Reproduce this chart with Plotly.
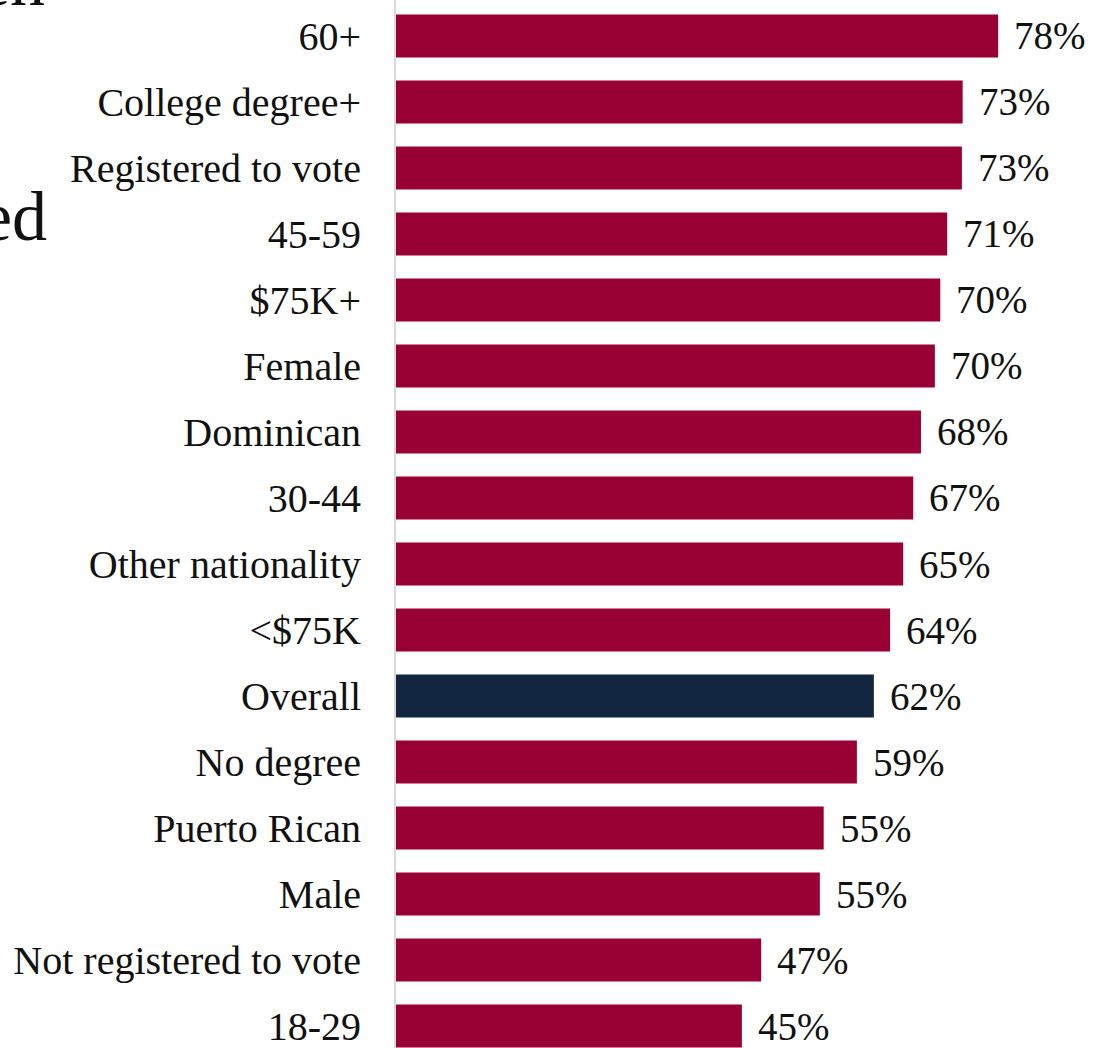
import plotly.graph_objects as go

categories = ["60+", "College degree+", "Registered to vote", "45-59", "$75K+", "Female",
              "Dominican", "30-44", "Other nationality", "<$75K", "Overall", "No degree",
              "Puerto Rican", "Male", "Not registered to vote", "18-29"]
values = [78.0, 73.4, 73.3, 71.4, 70.5, 69.8, 68.0, 67.0, 65.7, 64.0, 61.9, 59.7, 55.4, 54.9, 47.3, 44.8]
value_labels = ["78%", "73%", "73%", "71%", "70%", "70%", "68%", "67%", "65%", "64%",
                "62%", "59%", "55%", "55%", "47%", "45%"]
highlight = "Overall"

CRIMSON = "#990033"
NAVY = "#13263f"
FONT = "Liberation Serif"

colors = [NAVY if c == highlight else CRIMSON for c in categories]

fig = go.Figure(go.Bar(
    x=values, y=categories, orientation="h",
    marker=dict(color=colors, line=dict(width=0)),
    hoverinfo="skip",
))

for c, v, t in zip(categories, values, value_labels):
    fig.add_annotation(x=v, y=c, text=t, showarrow=False, xanchor="left", yanchor="middle",
                       xshift=14, font=dict(family=FONT, size=39, color="#111111"))

# cut-off title fragments at the left edge
fig.add_annotation(xref="paper", yref="paper", x=(47 - 396) / 709, y=1 - 8 / 1048,
                   text="en", showarrow=False, xanchor="right", yanchor="bottom", yshift=-14,
                   font=dict(family=FONT, size=70, color="#111111"))
fig.add_annotation(xref="paper", yref="paper", x=(49 - 396) / 709, y=1 - 241 / 1048,
                   text="ed", showarrow=False, xanchor="right", yanchor="bottom", yshift=-16,
                   font=dict(family=FONT, size=70, color="#111111"))

fig.update_layout(
    width=1105, height=1048,
    margin=dict(l=396, r=0, t=0, b=0),
    paper_bgcolor="white", plot_bgcolor="white",
    bargap=0.35, showlegend=False,
    font=dict(family=FONT, color="#111111"),
)
fig.update_xaxes(range=[0, (1105 - 396) / 7.72], visible=False, showgrid=False, zeroline=False)
fig.update_yaxes(
    categoryorder="array", categoryarray=categories[::-1],
    range=[-0.333, 15.545], showgrid=False, zeroline=False,
    showline=True, linecolor="#d9d9d9", linewidth=2,
    ticks="", ticklabelstandoff=25,
    tickfont=dict(family=FONT, size=40, color="#111111"),
)

fig.write_html("out.html", config={"displayModeBar": False},
               post_script="document.body.style.margin='0';document.body.style.overflow='hidden';")
